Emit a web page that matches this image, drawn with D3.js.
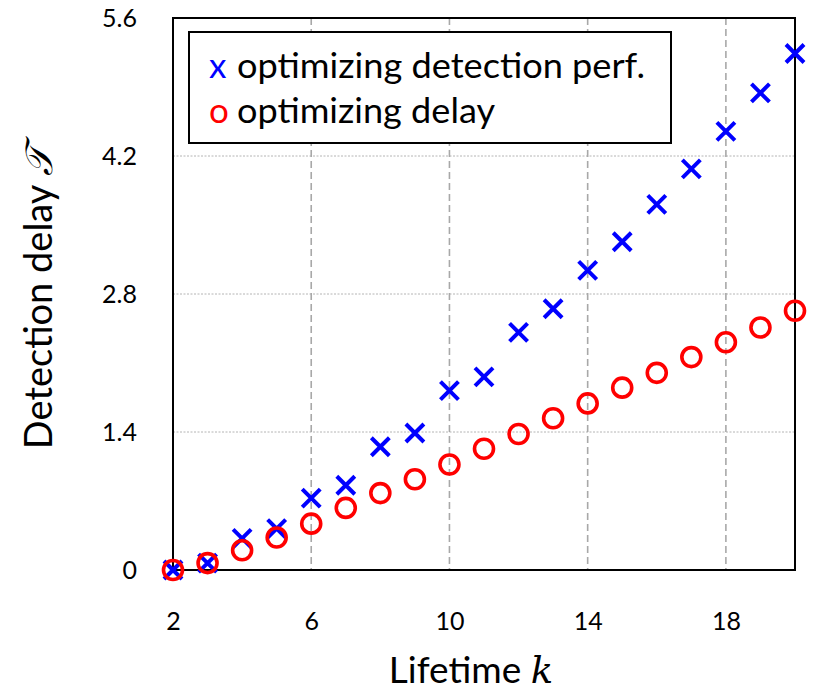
<!DOCTYPE html>
<html>
<head>
<meta charset="utf-8">
<script src="https://cdn.jsdelivr.net/npm/d3@7"></script>
<style>
  html, body { margin: 0; padding: 0; background: #fff; }
  svg text { font-family: Lato, "Open Sans", sans-serif; fill: #000; }
</style>
</head>
<body>
<svg id="chart" width="817" height="691"></svg>
<script>
// Lifetime k on the horizontal axis
const lifetimes = [2, 3, 4, 5, 6, 7, 8, 9, 10, 11, 12, 13, 14, 15, 16, 17, 18, 19, 20];
// Detection delay when the detection performance is optimized
const delayPerf = [0.00, 0.07, 0.32, 0.42, 0.73, 0.86, 1.25, 1.39, 1.82, 1.96, 2.41, 2.65, 3.04, 3.33, 3.71, 4.07, 4.45, 4.84, 5.24];
// Detection delay when the delay itself is optimized
const delayOpt = [0.00, 0.07, 0.20, 0.33, 0.47, 0.63, 0.78, 0.92, 1.07, 1.23, 1.38, 1.54, 1.69, 1.85, 2.00, 2.16, 2.31, 2.46, 2.63];
const xTicks = [2, 6, 10, 14, 18];
const yTicks = [0, 1.4, 2.8, 4.2, 5.6];
const yTickLabels = ["0", "1.4", "2.8", "4.2", "5.6"];
const legendLabels = ["optimizing detection perf.", "optimizing delay"];

const svg = d3.select("#chart");
const plot = { left: 173, right: 795, top: 18, bottom: 570 };

const x = d3.scaleLinear().domain([2, 20]).range([plot.left, plot.right]);
const y = d3.scaleLinear().domain([0, 5.6]).range([plot.bottom, plot.top]);

// grid lines
svg.append("g").selectAll("line").data(yTicks.slice(1, -1)).join("line")
  .attr("x1", plot.left).attr("x2", plot.right)
  .attr("y1", d => y(d)).attr("y2", d => y(d))
  .attr("stroke", "#b4b4b4").attr("stroke-width", 1).attr("stroke-dasharray", "2,1.5");
svg.append("g").selectAll("line").data(xTicks.slice(1)).join("line")
  .attr("x1", d => x(d)).attr("x2", d => x(d))
  .attr("y1", plot.top).attr("y2", plot.bottom)
  .attr("stroke", "#a8a8a8").attr("stroke-width", 1.6).attr("stroke-dasharray", "7,4");

// axes frame
svg.append("rect")
  .attr("x", plot.left).attr("y", plot.top)
  .attr("width", plot.right - plot.left).attr("height", plot.bottom - plot.top)
  .attr("fill", "none").attr("stroke", "#000").attr("stroke-width", 2);

// tick labels through d3 axes (no tick marks)
const xAxis = svg.append("g").attr("transform", `translate(0,${plot.bottom})`)
  .call(d3.axisBottom(x).tickValues(xTicks).tickSize(0).tickPadding(42).tickFormat(d3.format("d")));
xAxis.select(".domain").remove();
xAxis.selectAll("text").attr("font-size", 25).attr("font-family", "Lato, sans-serif").attr("fill", "#000");

const yAxis = svg.append("g").attr("transform", `translate(${plot.left},0)`)
  .call(d3.axisLeft(y).tickValues(yTicks).tickSize(0).tickPadding(36).tickFormat((d, i) => yTickLabels[i]));
yAxis.select(".domain").remove();
yAxis.selectAll("text").attr("font-size", 25).attr("font-family", "Lato, sans-serif").attr("fill", "#000");

// blue crosses
const s = 9;
svg.append("g").selectAll("path").data(lifetimes).join("path")
  .attr("d", (k, i) => {
    const cx = x(k), cy = y(delayPerf[i]);
    return `M${cx - s},${cy - s}L${cx + s},${cy + s}M${cx - s},${cy + s}L${cx + s},${cy - s}`;
  })
  .attr("stroke", "#0000ff").attr("stroke-width", 4).attr("fill", "none");

// red circles
svg.append("g").selectAll("circle").data(lifetimes).join("circle")
  .attr("cx", k => x(k)).attr("cy", (k, i) => y(delayOpt[i]))
  .attr("r", 9.5)
  .attr("fill", "none").attr("stroke", "#ff0000").attr("stroke-width", 3.6);

// legend
const legend = svg.append("g");
legend.append("rect").attr("x", 189).attr("y", 32).attr("width", 482).attr("height", 111)
  .attr("fill", "#fff").attr("stroke", "#000").attr("stroke-width", 2);
const legendMarks = [{ sym: "x", color: "#0000ff" }, { sym: "o", color: "#ff0000" }];
const legendWidths = [408, 258];
legendMarks.forEach((m, i) => {
  const by = 78 + i * 45;
  legend.append("text").attr("x", 209).attr("y", by).attr("font-size", 35)
    .attr("fill", m.color).style("fill", m.color).text(m.sym);
  legend.append("text").attr("x", 237).attr("y", by).attr("font-size", 35)
    .attr("textLength", legendWidths[i]).attr("lengthAdjust", "spacingAndGlyphs")
    .text(legendLabels[i]);
});

// axis titles
const xt = svg.append("text").attr("x", 471).attr("y", 683).attr("text-anchor", "middle").attr("font-size", 37);
xt.append("tspan").text("Lifetime ");
xt.append("tspan").attr("font-family", "'DejaVu Serif', serif").attr("font-style", "italic").text("k");

const yt = svg.append("text").attr("transform", "translate(52,298) rotate(-90)")
  .attr("text-anchor", "middle").attr("font-size", 38);
yt.append("tspan").text("Detection delay ");
yt.append("tspan").attr("font-family", "'DejaVu Serif', serif").attr("font-style", "italic").text("𝒯");
</script>
</body>
</html>
